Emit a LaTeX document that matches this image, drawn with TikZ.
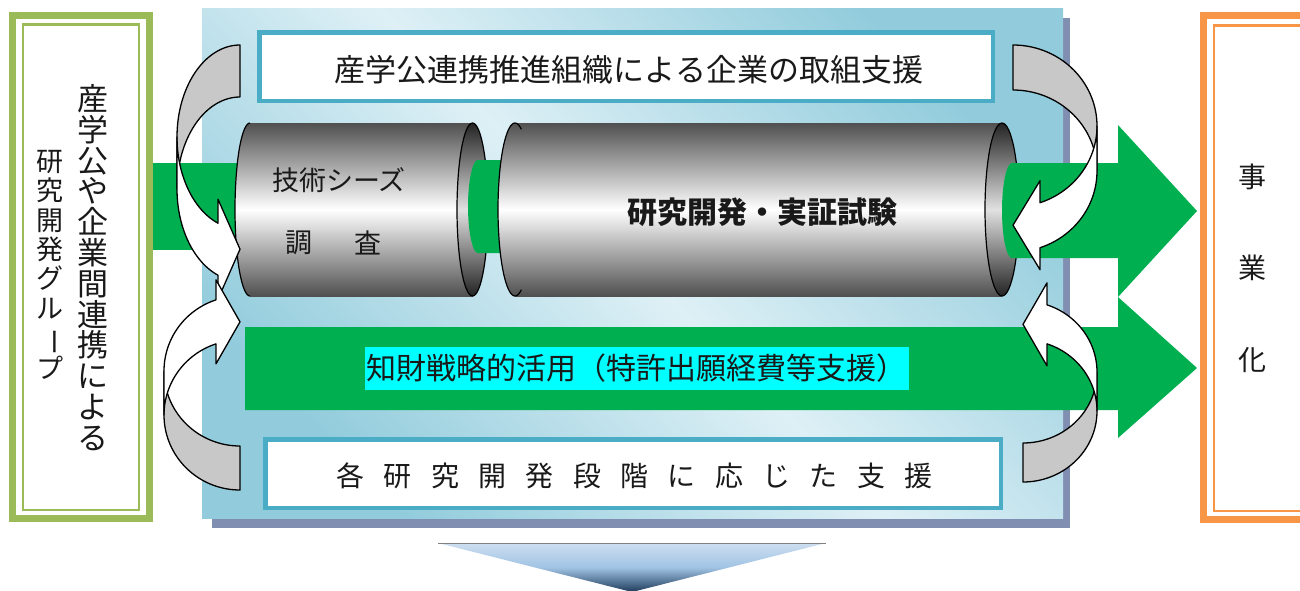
\documentclass[tikz,border=0pt]{standalone}
\usepackage{fontspec}
\usepackage{graphicx}
\newfontfamily\jp{Noto Sans CJK JP}

\definecolor{flowgreen}{RGB}{0,176,80}
\definecolor{leafgreen}{RGB}{155,187,89}
\definecolor{sunorange}{RGB}{247,150,70}
\definecolor{panellight}{RGB}{222,240,246}
\definecolor{paneldark}{RGB}{146,204,220}
\definecolor{panelshadow}{RGB}{128,142,178}
\definecolor{boxblue}{RGB}{75,172,198}
\definecolor{steeldark}{RGB}{80,80,80}
\definecolor{facedark}{RGB}{35,35,35}
\definecolor{facelight}{RGB}{225,225,225}
\definecolor{ribbongray}{RGB}{200,200,200}
\definecolor{inkblack}{RGB}{25,25,25}
\definecolor{markcyan}{RGB}{0,255,255}
\definecolor{tipblue}{RGB}{205,222,240}
\definecolor{tipmid}{RGB}{160,195,228}
\definecolor{tipdark}{RGB}{30,58,90}

% long vowel mark set upright for a vertical column
\newcommand\vchoon{\rotatebox[origin=c]{-90}{ー}}

% curved ribbon arrow: tail at the local origin, bending out to negative x,
% head pointing back to x=0 further down.
% #1 placement, #2 width, #3 half height of the bend, #4 ribbon thickness,
% #5 head length, #6 head overhang
\newcommand\bentarrow[6]{%
  \begin{scope}[#1]
    \pgfmathsetmacro\bendang{acos(-#5/#2)}
    \pgfmathsetmacro\bendya{#3+#3*sin(\bendang)}
    \pgfmathsetmacro\bendyb{\bendya+#4}
    \pgfmathsetmacro\bendtip{(\bendya+\bendyb)/2}
    \draw[backface]
      plot[domain=270:180,samples=40] ({#2*cos(\x)},{#3+#3*sin(\x)})
      -- plot[domain=180:270,samples=40] ({#2*cos(\x)},{#3+#4+#3*sin(\x)})
      -- cycle;
    \draw[frontface]
      plot[domain=180:\bendang,samples=40] ({#2*cos(\x)},{#3+#3*sin(\x)})
      -- (-#5,\bendya-#6) -- (0,\bendtip) -- (-#5,\bendyb+#6) -- (-#5,\bendyb)
      -- plot[domain=\bendang:180,samples=40] ({#2*cos(\x)},{#3+#4+#3*sin(\x)})
      -- cycle;
  \end{scope}}

\begin{document}
\begin{tikzpicture}[x=1pt,y=-1pt,
  backface/.style={fill=ribbongray,draw=black,line width=1.3pt,line join=round},
  frontface/.style={fill=white,draw=black,line width=1.3pt,line join=round},
  cylbody/.style={top color=steeldark,bottom color=steeldark,middle color=white},
  cylface/.style={top color=facedark,bottom color=facedark,middle color=facelight},
  rimline/.style={draw=black,line width=1.2pt},
  greenfill/.style={fill=flowgreen},
  txt/.style={text=inkblack,inner sep=0pt},
  framebox/.style={draw=boxblue,line width=4.5pt,fill=white}]

\useasboundingbox (0,0) rectangle (1300,590);
\clip (0,0) rectangle (1300,590);

% central panel with its drop shadow
\fill[panelshadow] (212,18) rectangle (1070,528);
\shade[left color=paneldark,right color=paneldark,middle color=panellight,shading angle=-45]
  (202,8) rectangle (1063,518);

% double framed side boxes
\draw[leafgreen,line width=7.5pt,fill=white] (12.5,15.5) rectangle (149.5,518.5);
\draw[leafgreen,line width=2.5pt] (23,24.5) rectangle (139,510);
\draw[sunorange,line width=7.5pt,fill=white] (1203.7,15.7) rectangle (1330,519.3);
\draw[sunorange,line width=2.5pt] (1214,25.5) rectangle (1330,511);

% support boxes at top and bottom of the panel
\draw[framebox] (259.25,32.25) rectangle (992.75,100.75);
\draw[framebox] (265.25,439.25) rectangle (1000.75,507.75);

% green flow entering the first cylinder
\fill[greenfill] (153,163) rectangle (245,250);

% lower green flow arrow
\fill[greenfill] (245,327) -- (1118,327) -- (1118,297) -- (1197,368)
  -- (1118,438) -- (1118,410) -- (245,410) -- cycle;

% first cylinder
\shade[cylbody] plot[domain=270:90,samples=40] ({250+15*cos(\x)},{209.5+86.5*sin(\x)})
  -- (472.5,296) -- (472.5,123) -- cycle;
\draw[steeldark,line width=0.6pt] (250,123) -- (472.5,123) (250,296) -- (472.5,296);
\draw[rimline] plot[domain=270:90,samples=40] ({250+15*cos(\x)},{209.5+86.5*sin(\x)});
\shade[cylface] (472.5,209.5) ellipse[x radius=15.5,y radius=86.5];
\draw[rimline] (472.5,209.5) ellipse[x radius=15.5,y radius=86.5];

% green core visible between the cylinders
\fill[greenfill] (512,160) -- (478,160)
  -- plot[domain=270:90,samples=30] ({478+10*cos(\x)},{206.5+46.5*sin(\x)})
  -- (512,253) -- cycle;

% second cylinder
\shade[cylbody] (1002,123) -- (515,123)
  -- plot[domain=270:90,samples=40] ({515+17*cos(\x)},{209.5+86.5*sin(\x)})
  -- (1002,296) -- cycle;
\draw[steeldark,line width=0.6pt] (515,123) -- (1002,123) (515,296) -- (1002,296);
\draw[rimline] plot[domain=292:68,samples=50] ({515+17*cos(\x)},{209.5+86.5*sin(\x)});
\shade[cylface] (1002,209.5) ellipse[x radius=17,y radius=86.5];
\draw[rimline] (1002,209.5) ellipse[x radius=17,y radius=86.5];

% upper green flow arrow leaving the second cylinder
\fill[greenfill] (1012,163) -- (1118,163) -- (1118,125) -- (1197,211)
  -- (1118,297) -- (1118,258) -- (1012,258)
  -- plot[domain=90:270,samples=30] ({1012+10*cos(\x)},{210.5+47.5*sin(\x)})
  -- cycle;

% labels
\node[txt,font=\jp\fontsize{31}{30.8}\selectfont,align=center] (alliance) at (93,267.5)
  {産\\学\\公\\や\\企\\業\\間\\連\\携\\に\\よ\\る};
\node[txt,font=\jp\fontsize{27}{29.3}\selectfont,align=center] (rdgroup) at (50,265)
  {研\\究\\開\\発\\グ\\ル\\\vchoon\\プ};
\node[txt,font=\jp\fontsize{28}{28}\selectfont] (biz1) at (1252,177) {事};
\node[txt,font=\jp\fontsize{28}{28}\selectfont] (biz2) at (1252,268) {業};
\node[txt,font=\jp\fontsize{28}{28}\selectfont] (biz3) at (1252,360) {化};

\node[txt,font=\jp\fontsize{31}{31}\selectfont] (orgsupport) at (629,70)
  {産学公連携推進組織による企業の取組支援};
\node[txt,font=\jp\fontsize{28}{28}\selectfont] (stagesupport) at (634.5,476)
  {各\hspace{19.3pt}研\hspace{19.3pt}究\hspace{19.3pt}開\hspace{19.3pt}発\hspace{19.3pt}段\hspace{19.3pt}階\hspace{19.3pt}に\hspace{19.3pt}応\hspace{19.3pt}じ\hspace{19.3pt}た\hspace{19.3pt}支\hspace{19.3pt}援};

\node[txt,font=\jp\fontsize{27}{27}\selectfont] (seeds) at (339,180) {技術シーズ};
\node[txt,font=\jp\fontsize{27}{27}\selectfont] (survey1) at (299,243) {調};
\node[txt,font=\jp\fontsize{27}{27}\selectfont] (survey2) at (368,243) {査};
\node[txt,font=\jp\bfseries\fontsize{30}{30}\selectfont] (rnd) at (762,212)
  {研究開発・実証試験};

\node[txt,fill=markcyan,inner xsep=2pt,minimum height=43pt,font=\jp\fontsize{30}{30}\selectfont]
  (ipstrategy) at (636.5,368.5) {知財戦略的活用（特許出願経費等支援）};

% curved support arrows around the panel
\bentarrow{shift={(240,45)}}{63}{92}{52}{22}{24}
\bentarrow{shift={(240,490)},yscale=-1}{76}{75}{44}{24}{20}
\bentarrow{shift={(1013,45)},xscale=-1}{84}{81}{45}{27}{22}
\bentarrow{shift={(1023,482)},xscale=-1,yscale=-1}{74}{71}{39}{24}{22}

% downward pointer under the panel
\shade[top color=tipblue,bottom color=tipdark,middle color=tipmid]
  (438,543) -- (826,543) -- (632,592) -- cycle;
\draw[gray,line width=0.8pt] (438,543) -- (826,543);

\end{tikzpicture}
\end{document}
